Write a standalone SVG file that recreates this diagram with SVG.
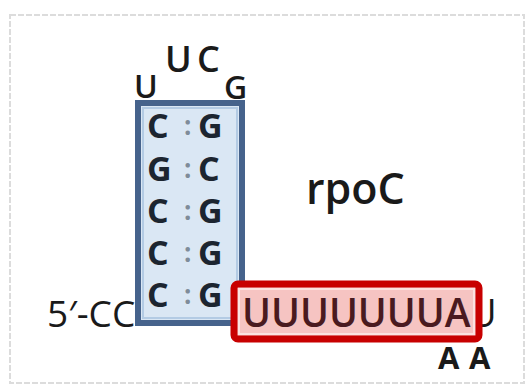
<svg xmlns="http://www.w3.org/2000/svg" width="531" height="391" viewBox="0 0 531 391">
  <style>
    .t { font-family: "Open Sans", "Liberation Sans", sans-serif; fill: #1a1a1a; }
    .b { font-weight: 700; }
    .s { font-weight: 600; }
    .stem { font-family: "Open Sans", "Liberation Sans", sans-serif; font-weight: 700; font-size: 34px; fill: #1c2530; }
    .bond { font-family: "Open Sans", "Liberation Sans", sans-serif; font-weight: 700; font-size: 26px; fill: #7f8c99; }
  </style>
  <rect width="531" height="391" fill="#ffffff"/>
  <!-- panel frame -->
  <rect x="10" y="15" width="514" height="368" fill="none" stroke="#dcdcdc" stroke-width="2" stroke-dasharray="6 2"/>

  <!-- loop bases -->
  <g id="loop">
    <text class="t s" x="165" y="72" font-size="36">U</text>
    <text class="t s" x="197" y="72" font-size="36">C</text>
    <text class="t s" x="134" y="98" font-size="32">U</text>
    <text class="t s" x="224" y="99" font-size="32">G</text>
  </g>

  <!-- 5' end -->
  <g id="five-prime">
    <text class="t" x="47" y="327" font-size="37">5′-CC</text>
  </g>

  <!-- stem -->
  <g id="stem">
    <rect x="138" y="103" width="104" height="220" fill="#dae7f4" stroke="#46638c" stroke-width="6"/>
    <rect x="143" y="108" width="94" height="210" fill="none" stroke="#b3cbe4" stroke-width="2"/>
    <text class="stem" x="147" y="138">C</text><text class="bond" x="184" y="135">:</text><text class="stem" x="198" y="138">G</text>
    <text class="stem" x="147" y="181">G</text><text class="bond" x="184" y="178">:</text><text class="stem" x="198" y="181">C</text>
    <text class="stem" x="147" y="223">C</text><text class="bond" x="184" y="220">:</text><text class="stem" x="198" y="223">G</text>
    <text class="stem" x="147" y="265">C</text><text class="bond" x="184" y="262">:</text><text class="stem" x="198" y="265">G</text>
    <text class="stem" x="147" y="307">C</text><text class="bond" x="184" y="304">:</text><text class="stem" x="198" y="307">G</text>
  </g>

  <!-- gene label -->
  <g id="label">
    <text class="t s" x="306" y="204" font-size="43">rpoC</text>
  </g>

  <!-- 3' trailing bases -->
  <g id="tail">
    <text class="t" x="469" y="327" font-size="38">U</text>
    <text class="t b" x="438" y="369" font-size="31">A</text>
    <text class="t b" x="469" y="369" font-size="31">A</text>
  </g>

  <!-- U-rich tract -->
  <g id="u-tract">
    <rect x="234" y="284" width="245" height="55" rx="4" fill="#f6c4c2" stroke="#c80000" stroke-width="7"/>
    <rect x="239" y="289" width="235" height="45" fill="none" stroke="#fbe2e0" stroke-width="2"/>
    <text class="t s" x="242" y="327" font-size="39" style="fill:#4a1a20">UUUUUUUA</text>
  </g>
</svg>
